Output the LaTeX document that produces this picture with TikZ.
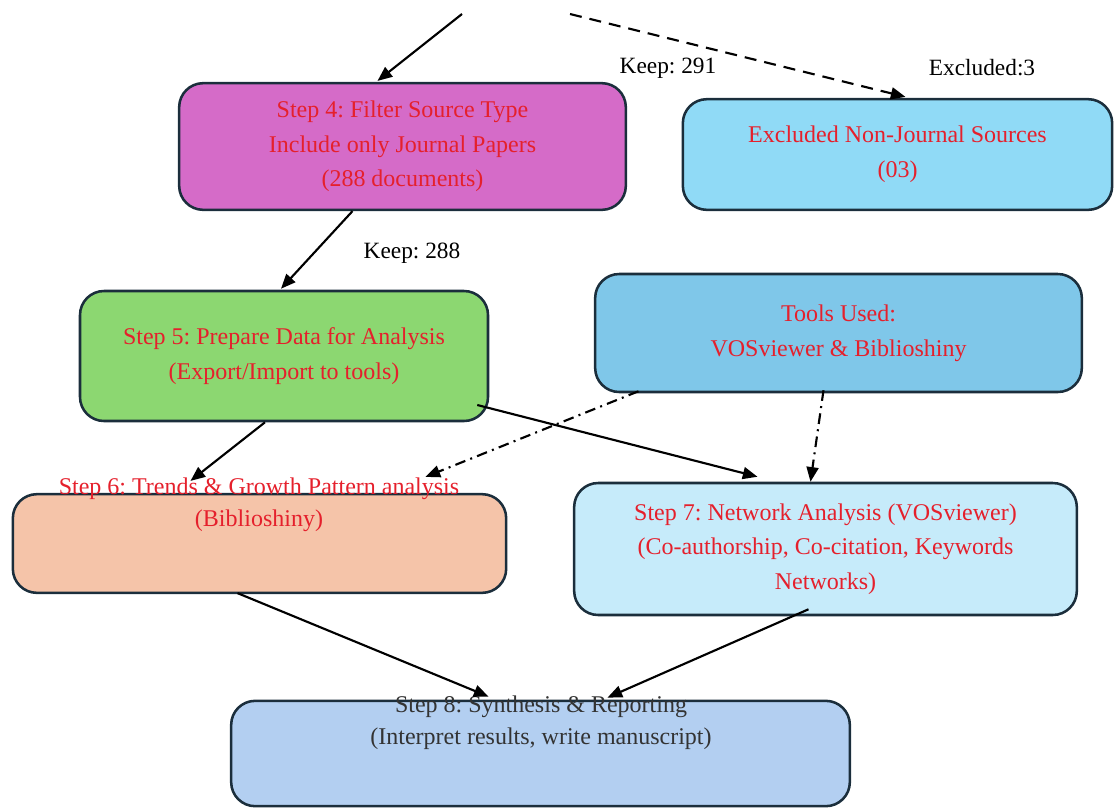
\documentclass[tikz,border=0pt]{standalone}
\usepackage{fontspec}
\setmainfont{Liberation Serif}
\usetikzlibrary{arrows.meta, calc}
\frenchspacing

\definecolor{edgecol}{HTML}{1B2E3C}
\definecolor{redtxt}{HTML}{E5202C}
\definecolor{fillmag}{HTML}{D56BC8}
\definecolor{fillexc}{HTML}{90DAF6}
\definecolor{fillgrn}{HTML}{8CD771}
\definecolor{filltool}{HTML}{7FC7E9}
\definecolor{fillpch}{HTML}{F5C4A9}
\definecolor{fillnet}{HTML}{C6EBFA}
\definecolor{fillsyn}{HTML}{B3CFF1}

\tikzset{
  stepbox/.style={draw=edgecol, line width=1.9pt, rounded corners=18pt, align=center,
    text=redtxt, font=\fontsize{18}{26}\selectfont},
  steptxt/.style={align=center, text=redtxt, font=\fontsize{18}{24}\selectfont},
  lbl/.style={font=\fontsize{17.5}{20}\selectfont},
  arr/.style={-{Triangle[length=11pt,width=9pt]}, line width=1.6pt},
  dasharr/.style={arr, dash pattern=on 9pt off 6pt},
  dotarr/.style={arr, dash pattern=on 8pt off 4pt on 1.5pt off 4pt}
}

\begin{document}
\begin{tikzpicture}[x=0.75pt, y=-0.75pt]
    \useasboundingbox (0,0) rectangle (1114,808);

    % Boxes
    \node[stepbox, fill=fillmag, minimum width=335pt, minimum height=95pt] (step4) at (402.5,146.5)
        {Step 4: Filter Source Type\\Include only Journal Papers\\(288 documents)};
    \node[stepbox, fill=fillexc, minimum width=322pt, minimum height=83pt] (excl) at (897.5,154.5)
        {Excluded Non-Journal Sources\\(03)};
    \node[stepbox, fill=fillgrn, minimum width=306pt, minimum height=97.5pt] (step5) at (284,356)
        {Step 5: Prepare Data for Analysis\\(Export/Import to tools)};
    \node[stepbox, fill=filltool, minimum width=365pt, minimum height=88.5pt] (tools) at (838.5,333)
        {Tools Used:\\VOSviewer \& Biblioshiny};
    \node[stepbox, fill=fillpch, minimum width=370pt, minimum height=74pt] (step6) at (259.5,543.5) {};
    \node[stepbox, fill=fillnet, minimum width=377pt, minimum height=99pt] (step7) at (825.5,549)
        {Step 7: Network Analysis (VOSviewer)\\(Co-authorship, Co-citation, Keywords\\Networks)};
    \node[stepbox, fill=fillsyn, minimum width=464pt, minimum height=79pt] (step8) at (540.5,753.5) {};

    % Box texts sitting high
    \node[steptxt] (step6txt) at (259,505) {Step 6: Trends \& Growth Pattern analysis\\(Biblioshiny)};
    \node[steptxt, text=black!80] (step8txt) at (541,722.5) {Step 8: Synthesis \& Reporting\\(Interpret results, write manuscript)};

    % Labels
    \node[lbl] (keep291) at (668,68) {Keep: 291};
    \node[lbl] (excl3) at (982,68) {Excluded:3};
    \node[lbl] (keep288) at (412,253) {Keep: 288};

    % Incoming from above
    \coordinate (inkeep) at (462,14);
    \coordinate (inexcl) at (570,14);

    % Arrows
    \draw[arr] (inkeep) -- ($(step4.north)+(-25,-1)$);
    \draw[dasharr] (inexcl) -- ($(excl.north)+(8,-1)$);
    \draw[arr] ($(step4.south)+(-50,0)$) -- ($(step5.north)+(-3,-1)$);
    \draw[arr] ($(step5.south)+(-19,0)$) -- ($(step6.north)+(-69,-12)$);
    \draw[arr] ($(step5.east)+(-12,49)$) -- ($(step7.north)+(-68,-5)$);
    \draw[dotarr] ($(tools.south)+(-200,-2)$) -- ($(step6.north)+(166,-16)$);
    \draw[dotarr] ($(tools.south)+(-15,-3)$) -- ($(step7.north)+(-15,0)$);
    \draw[arr] ($(step6.south)+(-22,-1)$) -- ($(step8.north)+(-52,-3)$);
    \draw[arr] ($(step7.south)+(-17,-7)$) -- ($(step8.north)+(67,-2)$);
\end{tikzpicture}
\end{document}
